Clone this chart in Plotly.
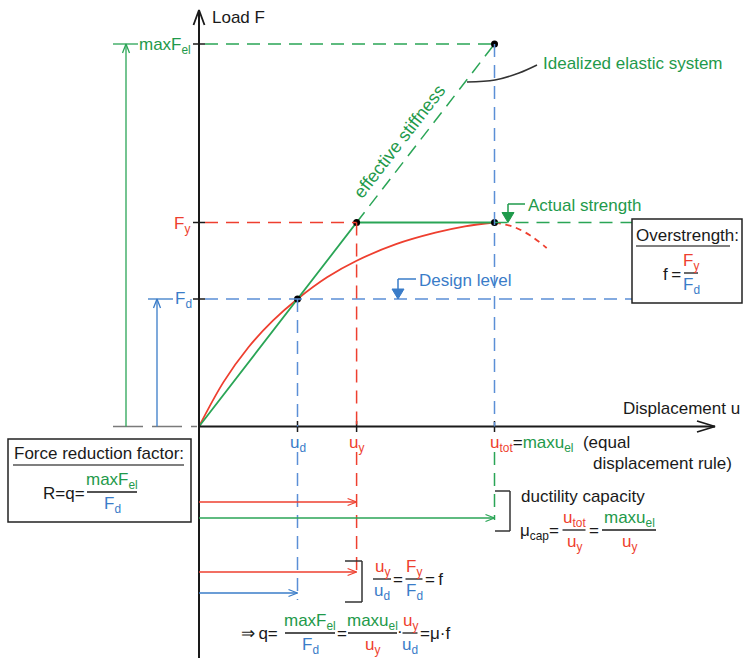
import math
import plotly.graph_objects as go

# ----------------------------- data -----------------------------
point_names = ["design (u_d, F_d)", "yield (u_y, F_y)", "elastic (u_tot, maxF_el)"]
u_values = [1.0, 1.6, 3.0]      # u_d, u_y, u_tot (= max u_el)
F_values = [1.0, 1.6, 3.0]      # F_d, F_y, max F_el
curve_u = [0.0, 0.25, 0.5, 0.75, 1.0, 1.3, 1.6, 2.0, 2.4, 2.7, 3.0]
curve_F = [0.0, 0.35, 0.62, 0.83, 1.0, 1.17, 1.30, 1.43, 1.52, 1.57, 1.60]
soft_u = [3.0, 3.19, 3.36, 3.53]
soft_F = [1.6, 1.567, 1.50, 1.40]

u_d, u_y, u_tot = u_values
F_d, F_y, F_el = F_values

# ----------------------------- layout helpers -----------------------------
W, H = 745, 658
PAGE_OFF = 0           # body margin removed by post_script
X0, Y0 = 199.0, 426.5  # window pixel of the origin
KX, KY = 98.5, 127.5


def X(px):
    return (px - X0) / KX


def Y(py):
    return (Y0 - py) / KY


def PX(u):
    return X0 + u * KX


def PY(F):
    return Y0 - F * KY


GREEN = "#1f9a4b"
LGREEN = "#2aa556"
RED = "#ee3f2f"
BLUE = "#3a7cc8"
LBLUE = "#5b8fd6"
BLACK = "#1a1a1a"
FONT = "Liberation Sans, Arial, sans-serif"
DASH = "13px,8px"

shapes = []
annotations = []
heads = {}


def seg(x0, y0, x1, y1, color, width=1.5, dash=None):
    ln = dict(color=color, width=width)
    if dash:
        ln["dash"] = dash
    shapes.append(dict(type="line", xref="x", yref="y", x0=x0, y0=y0, x1=x1, y1=y1, line=ln))


def text(x, y, s, color=BLACK, size=17, xanchor="center", yanchor="middle", angle=0):
    annotations.append(dict(x=x, y=y, xref="x", yref="y", text=s, showarrow=False,
                            xanchor=xanchor, yanchor=yanchor, textangle=angle,
                            font=dict(family=FONT, size=size, color=color)))


def c(s, col):
    return f'<span style="color:{col}">{s}</span>'


def frac(cx_px, bar_py, num, den, w_px, ncol, dcol, size=17):
    seg(X(cx_px - w_px / 2), Y(bar_py), X(cx_px + w_px / 2), Y(bar_py), BLACK, 1.3)
    text(X(cx_px), Y(bar_py - 11), num, ncol, size)
    text(X(cx_px), Y(bar_py + 13), den, dcol, size)


def head(tx, ty, dx, dy, L, Wd, color, width=1.5):
    bx, by = tx - dx * L, ty - dy * L
    nx, ny = -dy, dx
    h = heads.setdefault((color, width), ([], []))
    h[0].extend([X(bx + nx * Wd), X(tx), X(bx - nx * Wd), None])
    h[1].extend([Y(by + ny * Wd), Y(ty), Y(by - ny * Wd), None])


def tri(cx, tip_y, color):
    path = (f"M {X(cx - 6)},{Y(tip_y - 10)} L {X(cx + 6)},{Y(tip_y - 10)} "
            f"L {X(cx)},{Y(tip_y)} Z")
    shapes.append(dict(type="path", xref="x", yref="y", path=path,
                       fillcolor=color, line=dict(color=color, width=1)))


# ----------------------------- axes -----------------------------
seg(0, Y(670), 0, Y(10), BLACK, 2)
head(X0, 10, 0, -1, 15, 5.5, BLACK, 1.8)
seg(0, 0, X(715), 0, BLACK, 2)
head(715, PY(0), 1, 0, 18, 5.5, BLACK, 1.8)
seg(X(113), 0, X(197), 0, "#7a7a7a", 1.5, "30px,9px")
for F in F_values:
    seg(X(193), F, X(205), F, BLACK, 1.5)
for u in u_values:
    seg(u, Y(421), u, Y(432), BLACK, 1.5)

text(X(210), Y(17), "Load F", BLACK, 17, xanchor="left")
text(X(742), Y(408), "Displacement u", BLACK, 17, xanchor="right")

# y labels
text(X(193), Y(46), "maxF<sub>el</sub>", GREEN, 17, xanchor="right")
text(X(192), Y(225), "F<sub>y</sub>", RED, 17, xanchor="right")
text(X(194), Y(300), "F<sub>d</sub>", BLUE, 17, xanchor="right")

# left vertical arrows
seg(X(113), F_el, X(138), F_el, LGREEN, 1.3)
seg(X(126), 0, X(126), F_el, LGREEN, 1.3)
head(126, PY(F_el), 0, -1, 9, 3.5, LGREEN, 1.3)
seg(X(148), F_d, X(173), F_d, BLUE, 1.3)
seg(X(157), 0, X(157), F_d, BLUE, 1.3)
head(157, PY(F_d), 0, -1, 9, 3.5, BLUE, 1.3)

# ----------------------------- reference dashed lines -----------------------------
seg(X(205), F_el, u_tot, F_el, LGREEN, 1.5, DASH)
seg(X(205), F_y, u_y, F_y, RED, 1.5, DASH)
seg(u_tot, F_y, X(632), F_y, LGREEN, 1.5, DASH)
seg(X(205), F_d, X(632), F_d, LBLUE, 1.5, DASH)
seg(u_d, F_d, u_d, 0, LBLUE, 1.5, DASH)
seg(u_d, Y(452), u_d, Y(600), LBLUE, 1.5, DASH)
seg(u_y, F_y, u_y, 0, RED, 1.5, DASH)
seg(u_y, Y(452), u_y, Y(577), RED, 1.5, DASH)
seg(u_tot, F_el, u_tot, 0, LBLUE, 1.5, DASH)
seg(u_tot, Y(452), u_tot, Y(520), LGREEN, 1.5, DASH)

# x labels
text(u_d, Y(444), "u<sub>d</sub>", BLUE, 17)
text(u_y, Y(444), "u<sub>y</sub>", RED, 17)
text(X(488), Y(444), c("u<sub>tot</sub>", RED) + "=" + c("maxu<sub>el</sub>", GREEN)
     + "\u00a0\u00a0(equal", BLACK, 17, xanchor="left")
text(X(734), Y(463), "displacement rule)", BLACK, 17, xanchor="right")

# ----------------------------- annotations on the chart -----------------------------
ang = math.degrees(math.atan2(PY(F_y) - PY(F_el), PX(u_tot) - PX(u_y)))
text(X(399), Y(142), "effective stiffness", GREEN, 18, angle=-ang)
text(X(541), Y(63), "Idealized elastic system", GREEN, 17, xanchor="left")

tri(508, PY(F_y), GREEN)
seg(X(508), Y(204), X(508), Y(214), GREEN, 1.5)
seg(X(508), Y(204), X(525), Y(204), GREEN, 1.5)
text(X(526), Y(205), "Actual strength", GREEN, 17, xanchor="left")

tri(398, PY(F_d), BLUE)
seg(X(398), Y(279), X(398), Y(289), BLUE, 1.5)
seg(X(398), Y(279), X(416), Y(279), BLUE, 1.5)
text(X(417), Y(280), "Design level", BLUE, 17, xanchor="left")

# overstrength box
shapes.append(dict(type="rect", xref="x", yref="y", x0=X(632), x1=X(742), y0=Y(219), y1=Y(303),
                   line=dict(color="#222", width=1.5), fillcolor="white"))
text(X(687), Y(235), "Overstrength:", BLACK, 17)
seg(X(636), Y(246), X(730), Y(246), "#555", 1.6)
text(X(683), Y(274), "f\u2009=", BLACK, 17, xanchor="right")
frac(691, 273, "F<sub>y</sub>", "F<sub>d</sub>", 14, RED, BLUE)

# force reduction factor box
shapes.append(dict(type="rect", xref="x", yref="y", x0=X(8), x1=X(191), y0=Y(439), y1=Y(522),
                   line=dict(color="#222", width=1.5), fillcolor="white"))
text(X(99), Y(453), "Force reduction factor:", BLACK, 17)
seg(X(13), Y(465), X(184), Y(465), "#555", 1.6)
text(X(87), Y(493), "R=q=", BLACK, 17, xanchor="right")
frac(112, 492, "maxF<sub>el</sub>", "F<sub>d</sub>", 50, GREEN, BLUE)

# horizontal displacement arrows
for yy, uu, col in [(502, u_y, RED), (518, u_tot, LGREEN), (572, u_y, RED), (593, u_d, BLUE)]:
    seg(0, Y(yy), uu, Y(yy), col, 1.3)
    head(PX(uu), yy, 1, 0, 9, 3.5, col, 1.3)

# brackets
for (xl, xr, yt, yb) in [(345, 362, 561, 602), (495, 510, 491, 531)]:
    seg(X(xl), Y(yt), X(xr), Y(yt), "#333", 1.5)
    seg(X(xr), Y(yt), X(xr), Y(yb), "#333", 1.5)
    seg(X(xl), Y(yb), X(xr), Y(yb), "#333", 1.5)

# ductility text
text(X(519), Y(496), "ductility capacity", BLACK, 17, xanchor="left")
text(X(518), Y(532), "μ<sub>cap</sub>=", BLACK, 17, xanchor="left")
frac(574, 530, "u<sub>tot</sub>", "u<sub>y</sub>", 23, RED, RED)
text(X(594), Y(530), "=", BLACK, 17)
frac(629, 530, "maxu<sub>el</sub>", "u<sub>y</sub>", 54, GREEN, RED)

# u_y/u_d = F_y/F_d = f
frac(382, 579, "u<sub>y</sub>", "u<sub>d</sub>", 18, RED, BLUE)
text(X(398), Y(579), "=", BLACK, 17)
frac(414, 579, "F<sub>y</sub>", "F<sub>d</sub>", 17, RED, BLUE)
text(X(423), Y(579), "=\u2009f", BLACK, 17, xanchor="left")

# bottom formula
BAR = 633
text(X(239), Y(BAR), "⇒\u2009q=", BLACK, 17, xanchor="left")
frac(310, BAR, "maxF<sub>el</sub>", "F<sub>d</sub>", 50, GREEN, BLUE)
text(X(342), Y(BAR), "=", BLACK, 17)
frac(372.5, BAR, "maxu<sub>el</sub>", "u<sub>y</sub>", 49, GREEN, RED)
text(X(400), Y(BAR - 2), "·", BLACK, 17)
frac(410, BAR, "u<sub>y</sub>", "u<sub>d</sub>", 15, RED, BLUE)
text(X(418), Y(BAR), "=μ·f", BLACK, 17, xanchor="left")

# ----------------------------- traces -----------------------------
traces = []
traces.append(go.Scatter(x=curve_u, y=curve_F, mode="lines", line=dict(color=RED, width=1.8, shape="spline"),
                         hoverinfo="skip", name="actual response"))
traces.append(go.Scatter(x=soft_u, y=soft_F, mode="lines",
                         line=dict(color=RED, width=1.8, shape="spline", dash="6px,5px"),
                         hoverinfo="skip", name="softening"))
traces.append(go.Scatter(x=[0, u_y, u_tot], y=[0, F_y, F_y], mode="lines",
                         line=dict(color=LGREEN, width=1.8), hoverinfo="skip", name="idealized"))
traces.append(go.Scatter(x=[u_y, u_tot], y=[F_y, F_el], mode="lines",
                         line=dict(color=LGREEN, width=1.5, dash=DASH), hoverinfo="skip",
                         name="elastic"))
# leader curve to "Idealized elastic system"
lead_px = [(467, 82), (495, 80), (519, 73), (537, 65)]
traces.append(go.Scatter(x=[X(p[0]) for p in lead_px], y=[Y(p[1]) for p in lead_px], mode="lines",
                         line=dict(color="#333", width=1.5, shape="spline"), hoverinfo="skip"))
for (col, wd), (xs, ys) in heads.items():
    traces.append(go.Scatter(x=xs, y=ys, mode="lines", line=dict(color=col, width=wd),
                             hoverinfo="skip"))
traces.append(go.Scatter(x=[u_d, u_y, u_tot, u_tot], y=[F_d, F_y, F_y, F_el], mode="markers",
                         marker=dict(color="black", size=7), text=point_names, hoverinfo="text"))

fig = go.Figure(data=traces)
fig.update_layout(
    width=W, height=H, margin=dict(l=0, r=0, t=0, b=0),
    paper_bgcolor="white", plot_bgcolor="white", showlegend=False,
    xaxis=dict(visible=False, range=[X(PAGE_OFF), X(PAGE_OFF + W)], fixedrange=True),
    yaxis=dict(visible=False, range=[Y(PAGE_OFF + H), Y(PAGE_OFF)], fixedrange=True),
    shapes=shapes, annotations=annotations,
    font=dict(family=FONT),
)
fig.write_html("out.html", config={"displayModeBar": False},
               post_script="document.body.style.margin='0';document.body.style.overflow='hidden';")
